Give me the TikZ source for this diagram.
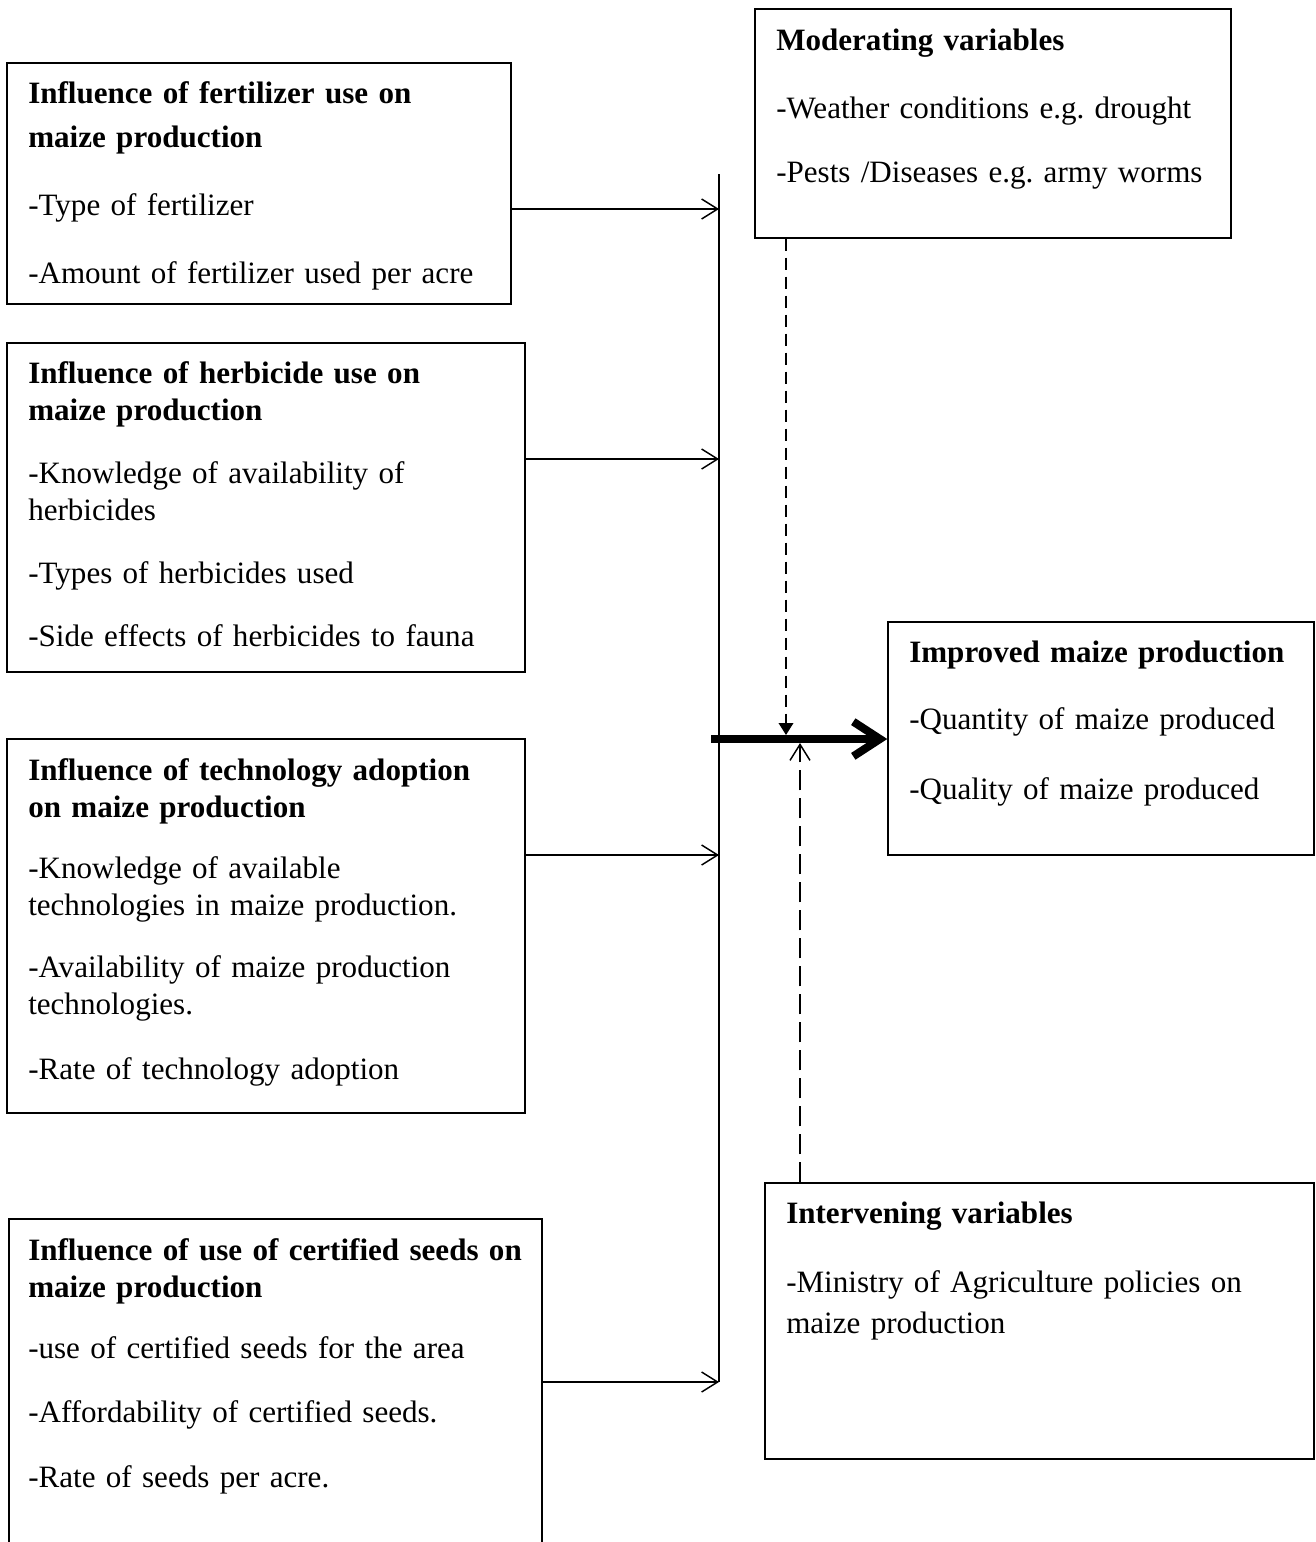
\documentclass[tikz,border=0pt]{standalone}
\usepackage{fontspec}
\setmainfont{Liberation Serif}
\frenchspacing
\usetikzlibrary{arrows.meta,fit}
\tikzstyle{varbox}=[
    rectangle,
    draw=black,
    line width=1.1pt,
    inner sep=0pt]
\tikzstyle{vartext}=[
    anchor=base west,
    inner sep=0pt,
    text width=16cm,
    align=left,
    text=black,
    font=\fontsize{23.3pt}{27.75pt}\selectfont]
\tikzstyle{feed}=[line width=1.1pt,-{Straight Barb[length=12pt,width=15pt]}]

\begin{document}
\begin{tikzpicture}[x=0.75pt,y=0.75pt,yscale=-1,xscale=1]
\path[use as bounding box,clip] (0,0) rectangle (1315,1542);

%Shape: Rectangle [fert]
\node[varbox,fit={(7,63) (511,304)}] (fert) {};
%Shape: Rectangle [herb]
\node[varbox,fit={(7,343) (525,672)}] (herb) {};
%Shape: Rectangle [tech]
\node[varbox,fit={(7,739) (525,1113)}] (tech) {};
%Shape: Rectangle [seed] (runs off the page)
\node[varbox,fit={(9,1219) (542,1600)}] (seed) {};
%Shape: Rectangle [mod]
\node[varbox,fit={(755,9) (1231,238)}] (mod) {};
%Shape: Rectangle [impr]
\node[varbox,fit={(888,622) (1314,855)}] (impr) {};
%Shape: Rectangle [interv]
\node[varbox,fit={(765,1183) (1314,1459)}] (interv) {};

%Points on the bar
\coordinate (barT) at (719,174);
\coordinate (barB) at (719,1382);
\coordinate (inF) at (719,209);
\coordinate (inH) at (719,459);
\coordinate (inT) at (719,855);
\coordinate (inS) at (719,1382);
\coordinate (hub) at (711,739);
\coordinate (modHit) at (786,735);
\coordinate (intHit) at (800,743);

%Straight Lines [bar]
\draw[line width=1.1pt] (barT) -- (barB);
%Straight Lines [inputs]
\draw[feed] (fert.east |- inF) -- (inF);
\draw[feed] (herb.east |- inH) -- (inH);
\draw[feed] (tech.east |- inT) -- (inT);
\draw[feed] (seed.east |- inS) -- (inS);
%Straight Lines [main]
\draw[line width=6pt,-{Straight Barb[length=20pt,width=26pt]}] (hub) -- (hub -| impr.west);
%Straight Lines [dashed]
\draw[line width=1.1pt,dash pattern=on 9pt off 5.25pt,-{Triangle[length=9pt,width=11pt]}] (mod.south -| modHit) -- (modHit);
\draw[line width=1.1pt,dash pattern=on 15pt off 6pt,-{Straight Barb[length=12pt,width=15pt]}] (interv.north -| intHit) -- (intHit);

% Text Node
\node[vartext] (fertT) at (28,103) {\textbf{Influence of fertilizer use on}\\[5.25pt]\textbf{maize production}\\[23.25pt]-Type of fertilizer\\[23.25pt]-Amount of fertilizer used per acre};
% Text Node
\node[vartext] (herbT) at (28,383) {\textbf{Influence of herbicide use on}\\\textbf{maize production}\\[19.5pt]-Knowledge of availability of\\herbicides\\[19.5pt]-Types of herbicides used\\[19.5pt]-Side effects of herbicides to fauna};
% Text Node
\node[vartext] (techT) at (28,780) {\textbf{Influence of technology adoption}\\\textbf{on maize production}\\[18pt]-Knowledge of available\\technologies in maize production.\\[18.75pt]-Availability of maize production\\technologies.\\[21pt]-Rate of technology adoption};
% Text Node
\node[vartext] (seedT) at (28,1260) {\textbf{Influence of use of certified seeds on}\\\textbf{maize production}\\[18pt]-use of certified seeds for the area\\[20.25pt]-Affordability of certified seeds.\\[21pt]-Rate of seeds per acre.};
% Text Node
\node[vartext] (modT) at (776,50) {\textbf{Moderating variables}\\[23.25pt]-Weather conditions e.g. drought\\[20.25pt]-Pests /Diseases e.g. army worms};
% Text Node
\node[vartext] (imprT) at (909,662) {\textbf{Improved maize production}\\[22.5pt]-Quantity of maize produced\\[24.75pt]-Quality of maize produced};
% Text Node
\node[vartext] (intervT) at (786,1223) {\textbf{Intervening variables}\\[24pt]-Ministry of Agriculture policies on\\[3pt]maize production};

\end{tikzpicture}
\end{document}
